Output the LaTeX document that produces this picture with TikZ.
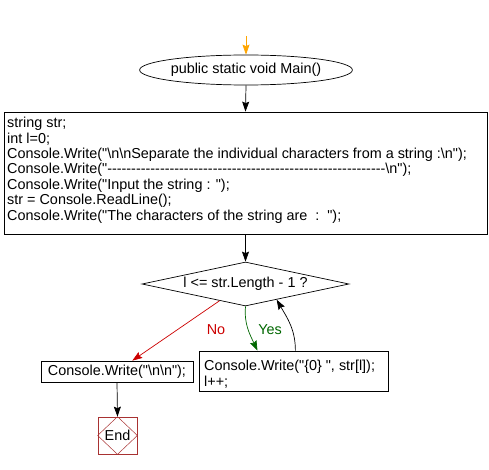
\documentclass[tikz,border=0pt]{standalone}
\usepackage{fontspec}
\setmainfont{Liberation Sans}[Ligatures=TeXOff]
\usetikzlibrary{shapes.geometric,arrows.meta,calc}
\definecolor{noRed}{HTML}{CC0000}
\definecolor{yesGreen}{HTML}{006600}
\definecolor{endRed}{HTML}{A83232}
\definecolor{startOrange}{HTML}{FFA500}
\tikzset{
  every node/.style={font=\fontsize{14.4}{15.4}\selectfont},
  arr/.style={-{Stealth[length=10pt,width=7pt,inset=1.5pt]}, line width=0.7pt},
  procbox/.style={draw, line width=0.7pt, rectangle, inner sep=0pt},
  codetext/.style={align=left, anchor=north west, inner sep=0pt},
}
\begin{document}
\begin{tikzpicture}[x=1pt,y=-1pt]
\useasboundingbox (0,0) rectangle (489,470);
% start
\coordinate (top) at (246,36);
\node[draw, ellipse, line width=0.7pt, minimum width=170pt, minimum height=30pt, inner sep=0pt] (m) at (246,70) {public static void Main()};
% code box
\node[procbox, minimum width=483pt, minimum height=122pt] (code) at (245.5,173) {};
\node[codetext] (codet) at (7,117) {string str;\\
int l=0;\\
Console.Write("\textbackslash n\textbackslash nSeparate the individual characters from a string :\textbackslash n");\\
Console.Write("----------------------------------------------------------\textbackslash n");\\
Console.Write("Input the string : ");\\
str = Console.ReadLine();\\
Console.Write("The characters of the string are~~:~~");};
% decision
\node[draw, diamond, line width=0.7pt, aspect=4.7, minimum width=207pt, minimum height=44pt, inner sep=0pt] (d) at (245.5,284) {l <= str.Length - 1 ?};
% no box
\node[procbox, minimum width=152pt, minimum height=21pt] (nn) at (117,371.5) {Console.Write("\textbackslash n\textbackslash n");};
% yes box
\node[procbox, minimum width=189pt, minimum height=40pt] (yb) at (293.5,371) {};
\node[codetext] (ybt) at (204,360) {Console.Write("\{0\} ", str[l]);\\ l++;};
% end
\node[draw=endRed, line width=0.7pt, rectangle, minimum width=39pt, minimum height=37pt, inner sep=0pt] (e) at (117.5,435.5) {End};
\draw[endRed, line width=0.5pt] (e.north) -- (e.east) -- (e.south) -- (e.west) -- cycle;
% connectors
\draw[arr, startOrange] (top) -- (m.north);
\draw[arr] (m.south) -- (code.north);
\draw[arr] (code.south) -- (d.north);
\draw[arr, noRed] ($(d.west)!0.75!(d.south)$) -- ($(nn.north west)!0.6!(nn.north east)$);
\draw[arr, yesGreen] (d.south) to[out=-95, in=115] ($(yb.north west)!0.31!(yb.north east)$);
\draw[arr] ($(yb.north west)!0.51!(yb.north east)$) to[out=90, in=-60] ($(d.south)!0.3!(d.east)$);
\node[text=noRed] (nolab) at (216,330) {No};
\node[text=yesGreen] (yeslab) at (270,330) {Yes};
\draw[arr] (nn.south) -- (e.north);
\end{tikzpicture}
\end{document}
